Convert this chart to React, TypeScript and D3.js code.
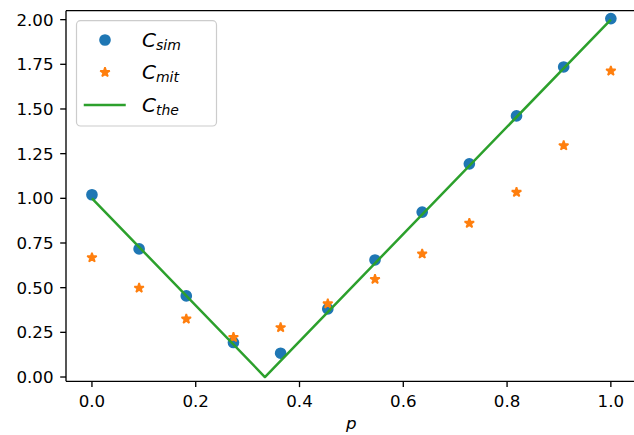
import React from 'react';
import * as d3 from 'd3';

const pValues = [0, 0.0909, 0.1818, 0.2727, 0.3636, 0.4545, 0.5455, 0.6364, 0.7273, 0.8182, 0.9091, 1.0];
const cSim = [1.02, 0.717, 0.454, 0.193, 0.133, 0.381, 0.655, 0.923, 1.193, 1.461, 1.735, 2.006];
const cMit = [0.668, 0.498, 0.325, 0.222, 0.277, 0.41, 0.547, 0.689, 0.861, 1.034, 1.295, 1.713];
const theoryP = [0, 0.3333, 1.0];
const theoryC = [1.0, 0.0, 2.0];

const xTicks = [0, 0.2, 0.4, 0.6, 0.8, 1.0];
const yTicks = [0, 0.25, 0.5, 0.75, 1.0, 1.25, 1.5, 1.75, 2.0];
const legendLabels = [
  { main: 'C', sub: 'sim' },
  { main: 'C', sub: 'mit' },
  { main: 'C', sub: 'the' },
];

const BLUE = '#1f77b4';
const ORANGE = '#ff7f0e';
const GREEN = '#2ca02c';
const FONT = '"DejaVu Sans", sans-serif';

function starPath(cx: number, cy: number, R: number): string {
  const r = R * 0.381966;
  const pts: [number, number][] = [];
  for (let i = 0; i < 10; i++) {
    const a = -Math.PI / 2 + (i * Math.PI) / 5;
    const rad = i % 2 === 0 ? R : r;
    pts.push([cx + rad * Math.cos(a), cy + rad * Math.sin(a)]);
  }
  return 'M' + pts.map((p) => p[0].toFixed(2) + ',' + p[1].toFixed(2)).join('L') + 'Z';
}

export default function App() {
  const W = 634;
  const H = 435;
  const left = 66;
  const right = 636.8;
  const top = 10.7;
  const bottom = 381.3;
  const x = d3.scaleLinear().domain([-0.05, 1.05]).range([left, right]);
  const y = d3.scaleLinear().domain([-0.024, 2.05]).range([bottom, top]);

  const line = d3
    .line<number>()
    .x((_, i) => x(theoryP[i]))
    .y((d) => y(d));

  const tickLen = 5.8;
  const fs = 16.67;
  const mR = 5;
  const sR = 5;
  const mEdge = 1.67;

  const legendRows = [40, 72.3, 105];

  return (
    <svg
      width={W}
      height={H}
      style={{ position: 'absolute', left: 0, top: 0, background: '#fff' }}
      fontFamily={FONT}
    >
      <rect x={0} y={0} width={W} height={H} fill="#fff" />
      {/* data */}
      {pValues.map((p, i) => (
        <circle key={'s' + i} cx={x(p)} cy={y(cSim[i])} r={mR} fill={BLUE} stroke={BLUE} strokeWidth={mEdge} />
      ))}
      {pValues.map((p, i) => (
        <path key={'m' + i} d={starPath(x(p), y(cMit[i]), sR)} fill={ORANGE} stroke={ORANGE} strokeWidth={mEdge} strokeLinejoin="bevel" />
      ))}
      <path d={line(theoryC) || ''} fill="none" stroke={GREEN} strokeWidth={2.5} strokeLinejoin="round" />

      {/* spines */}
      <line x1={left} x2={left} y1={top} y2={bottom} stroke="#000" strokeWidth={1.33} />
      <line x1={left} x2={right} y1={bottom} y2={bottom} stroke="#000" strokeWidth={1.33} />
      <line x1={left} x2={right} y1={top} y2={top} stroke="#000" strokeWidth={1.33} />
      <line x1={right} x2={right} y1={top} y2={bottom} stroke="#000" strokeWidth={1.33} />

      {/* x ticks */}
      {xTicks.map((t) => (
        <g key={'xt' + t}>
          <line x1={x(t)} x2={x(t)} y1={bottom} y2={bottom + tickLen} stroke="#000" strokeWidth={1.33} />
          <text x={x(t)} y={407} textAnchor="middle" fontSize={fs} fill="#000">
            {t.toFixed(1)}
          </text>
        </g>
      ))}
      {/* y ticks */}
      {yTicks.map((t) => (
        <g key={'yt' + t}>
          <line x1={left - tickLen} x2={left} y1={y(t)} y2={y(t)} stroke="#000" strokeWidth={1.33} />
          <text x={53.5} y={y(t) + 6.1} textAnchor="end" fontSize={fs} fill="#000">
            {t.toFixed(2)}
          </text>
        </g>
      ))}
      {/* x label */}
      <text x={(left + right) / 2} y={429} textAnchor="middle" fontSize={fs} fontStyle="italic" fill="#000">
        p
      </text>

      {/* legend */}
      <rect x={76.5} y={20.7} width={140} height={105.3} rx={4} ry={4} fill="#fff" fillOpacity={0.8} stroke="#cccccc" strokeWidth={1.2} />
      <circle cx={105} cy={legendRows[0]} r={mR} fill={BLUE} stroke={BLUE} strokeWidth={mEdge} />
      <path d={starPath(105, legendRows[1], sR)} fill={ORANGE} stroke={ORANGE} strokeWidth={mEdge} strokeLinejoin="bevel" />
      <line x1={85} x2={124.5} y1={legendRows[2]} y2={legendRows[2]} stroke={GREEN} strokeWidth={2.5} strokeLinecap="square" />
      {legendLabels.map((lab, i) => (
        <text key={'lg' + i} x={142} y={legendRows[i] + 7} fontSize={20} fontStyle="italic" fill="#000">
          {lab.main}
          <tspan fontSize={14} dy={2.5}>
            {lab.sub}
          </tspan>
        </text>
      ))}
    </svg>
  );
}
